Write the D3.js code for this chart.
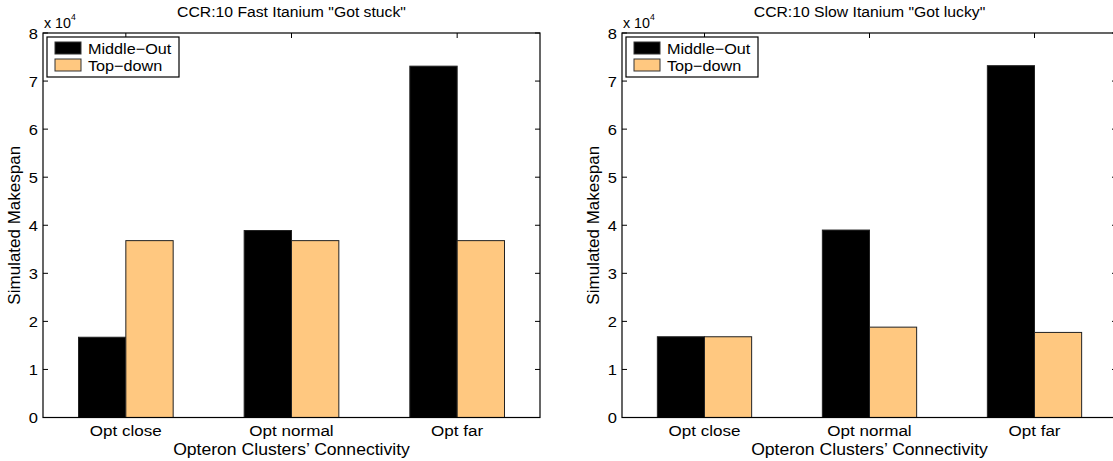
<!DOCTYPE html>
<html>
<head>
<meta charset="utf-8">
<script src="https://cdn.jsdelivr.net/npm/d3@7"></script>
<style>
  html, body { margin: 0; padding: 0; background: #fff; }
  svg { display: block; font-family: "Liberation Sans", Arial, Helvetica, sans-serif; }
</style>
</head>
<body>
<svg id="chart" width="1113" height="461"></svg>
<script>
// Categories and series (values in units of 10^4)
const categories = ["Opt close", "Opt normal", "Opt far"];
const seriesNames = ["Middle\u2212Out", "Top\u2212down"];
const seriesColors = ["#000000", "#ffc880"];

const fastTitle = "CCR:10 Fast Itanium \"Got stuck\"";
const fastMiddleOut = [1.67, 3.89, 7.31];
const fastTopDown = [3.68, 3.68, 3.68];

const slowTitle = "CCR:10 Slow Itanium \"Got lucky\"";
const slowMiddleOut = [1.68, 3.90, 7.32];
const slowTopDown = [1.68, 1.88, 1.77];

const yTicks = [0, 1, 2, 3, 4, 5, 6, 7, 8];
const yLabel = "Simulated Makespan";
const xLabel = "Opteron Clusters\u2019 Connectivity";

const svg = d3.select("#chart");

// text is drawn slightly wide, as in the exported figure
const SX = 1.1;
function label(sel, x, y, str, size, anchor, sx) {
  return sel.append("text")
    .attr("transform", `translate(${x},${y}) scale(${sx || SX},1)`)
    .attr("text-anchor", anchor || "start")
    .attr("font-size", size)
    .text(str);
}

function drawPanel(opts) {
  const { left, right, top, bottom, title, series } = opts;
  const g = svg.append("g");

  const x = d3.scaleLinear().domain([0.5, 3.5]).range([left, right]);
  const y = d3.scaleLinear().domain([0, 8]).range([bottom, top]);

  // grouped bar geometry: group width 4/7, each bar half of it
  const groupW = 2 / 3.5;
  const barW = groupW / 2;

  series.forEach((vals, si) => {
    g.selectAll(null)
      .data(vals)
      .enter()
      .append("rect")
      .attr("x", (d, i) => x(i + 1 - groupW / 2 + si * barW))
      .attr("width", x(barW) - x(0))
      .attr("y", d => y(d))
      .attr("height", d => y(0) - y(d))
      .attr("fill", seriesColors[si])
      .attr("stroke", "#222")
      .attr("stroke-width", 1);
  });

  // frame
  g.append("rect")
    .attr("x", left).attr("y", top)
    .attr("width", right - left).attr("height", bottom - top)
    .attr("fill", "none").attr("stroke", "#000").attr("stroke-width", 1.2);

  const tickLen = 5;
  // y ticks, inward on both sides
  yTicks.forEach(t => {
    const yy = y(t);
    g.append("line").attr("x1", left).attr("x2", left + tickLen)
      .attr("y1", yy).attr("y2", yy).attr("stroke", "#000");
    g.append("line").attr("x1", right).attr("x2", right - tickLen)
      .attr("y1", yy).attr("y2", yy).attr("stroke", "#000");
    label(g, left - 5, yy + 5.5, t, 15, "end");
  });

  // x ticks at group centres, inward from the top
  categories.forEach((c, i) => {
    const xx = x(i + 1);
    g.append("line").attr("x1", xx).attr("x2", xx)
      .attr("y1", top).attr("y2", top + tickLen).attr("stroke", "#000");
    label(g, xx, bottom + 18, c, 15.5, "middle");
  });

  // exponent marker
  const ex = label(g, left + 1, top - 5, "x 10", 14, "start", 1.02);
  ex.append("tspan").attr("dy", -8).attr("font-size", 8.5).text("4");

  // title
  label(g, (left + right) / 2, 17, title, 15, "middle", 1.05);

  // axis labels
  label(g, (left + right) / 2, bottom + 37, xLabel, 16, "middle", 1.1);
  g.append("text")
    .attr("transform", `translate(${left - 23},${(top + bottom) / 2}) rotate(-90)`)
    .attr("text-anchor", "middle").attr("font-size", 17).text(yLabel);

  // legend
  const lg = g.append("g").attr("transform", `translate(${left + 4},${top + 4})`);
  lg.append("rect").attr("x", 0).attr("y", 0).attr("width", 132).attr("height", 40)
    .attr("fill", "#fff").attr("stroke", "#000").attr("stroke-width", 1.2);
  seriesNames.forEach((n, i) => {
    lg.append("rect").attr("x", 8).attr("y", 5 + i * 17).attr("width", 26).attr("height", 12)
      .attr("fill", seriesColors[i]).attr("stroke", "#333").attr("stroke-width", 1);
    label(lg, 41, 16.5 + i * 17, n, 15, "start", 1.08);
  });
}

drawPanel({
  left: 43, right: 540, top: 33, bottom: 417.5,
  title: fastTitle,
  series: [fastMiddleOut, fastTopDown]
});

drawPanel({
  left: 622, right: 1117, top: 33, bottom: 417.5,
  title: slowTitle,
  series: [slowMiddleOut, slowTopDown]
});
</script>
</body>
</html>
